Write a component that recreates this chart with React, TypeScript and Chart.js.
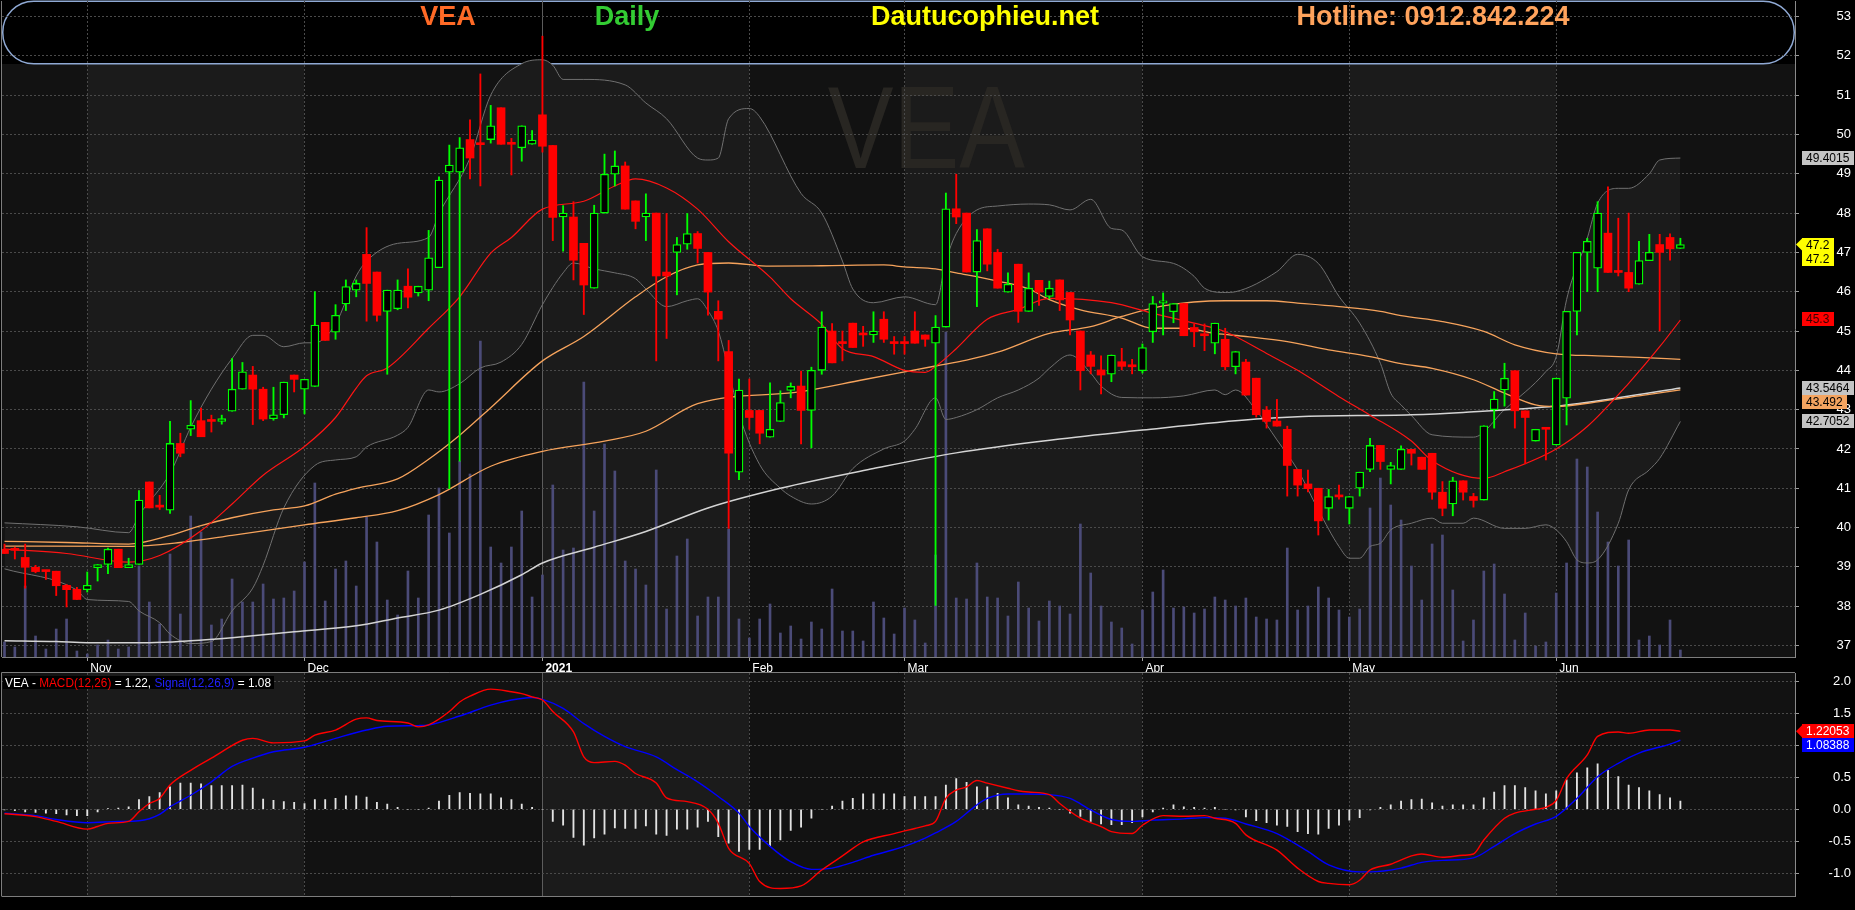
import React, { useEffect, useRef } from 'react';
import { Chart, registerables } from 'chart.js';

const FONT = '"Liberation Sans", Arial, Helvetica, sans-serif';
const DARK = '#121212';
const LIGHT = '#1b1b1b';
const GRID = '#4a4a4a';
const UP = '#00ff00';
const DOWN = '#ff0000';

// ---------------- data (trading-day index 0 = 21 Oct 2020 ... 162 = 17 Jun 2021) ----------------
const monthStarts = [8, 29, 52, 72, 87, 110, 130, 150];
const monthLabels = ['Nov', 'Dec', '2021', 'Feb', 'Mar', 'Apr', 'May', 'Jun'];

const opens = [
  39.45, 39.45, 39.24, 38.99, 38.9, 38.89, 38.53, 38.43, 38.42, 38.98,
  39.06, 39.45, 38.98, 39.06, 41.16, 40.55, 40.44, 42.14, 42.5, 42.72,
  42.72, 42.7, 42.96, 43.52, 43.88, 43.52, 42.77, 42.87, 43.88, 43.52,
  43.59, 45.22, 44.97, 45.69, 46.04, 46.95, 46.5, 45.5, 45.57, 46.14,
  45.97, 46.04, 46.61, 49.04, 49.04, 49.87, 49.76, 49.87, 50.68, 49.76,
  49.66, 49.75, 50.5, 49.72, 47.9, 47.9, 47.23, 46.09, 48.0, 48.99,
  49.2, 48.31, 47.9, 48.0, 46.5, 47.0, 47.21, 47.48, 47.0, 45.5,
  44.48, 41.41, 42.98, 42.98, 42.3, 42.7, 43.49, 43.6, 42.98, 44.0,
  45.0, 44.7, 45.2, 44.92, 44.9, 45.3, 44.7, 44.7, 45.0, 44.9,
  44.69, 45.1, 48.11, 48.0, 46.5, 47.6, 47.0, 45.99, 46.7, 45.5,
  46.29, 45.88, 46.3, 45.98, 45.0, 44.39, 44.01, 43.9, 44.22, 44.1,
  43.99, 44.98, 45.71, 45.49, 45.7, 45.09, 44.9, 44.69, 44.79, 44.09,
  44.21, 43.8, 42.99, 42.71, 42.5, 41.48, 41.11, 41.0, 40.49, 40.8,
  40.49, 41.0, 41.48, 42.09, 41.48, 41.48, 41.99, 41.79, 41.89, 40.9,
  40.6, 41.19, 40.79, 40.7, 43.0, 43.5, 43.99, 42.97, 42.2, 42.51,
  42.1, 43.29, 45.5, 47.0, 46.6, 47.49, 46.5, 46.49, 46.19, 46.79,
  47.2, 47.38, 47.1,
];
const highs = [
  39.58, 39.5, 39.58, 39.04, 38.9, 38.89, 38.55, 38.48, 38.87, 39.06,
  39.48, 39.45, 39.22, 40.94, 41.16, 40.82, 42.7, 42.4, 43.23, 43.04,
  42.86, 42.86, 44.3, 44.2, 44.1, 43.57, 43.57, 43.7, 43.88, 43.77,
  46.0, 45.22, 45.67, 46.3, 46.3, 47.63, 46.5, 46.04, 46.3, 46.58,
  46.14, 47.56, 48.92, 49.73, 49.92, 50.37, 51.54, 50.74, 50.68, 49.9,
  50.22, 50.1, 52.5, 49.72, 48.19, 48.29, 47.23, 48.2, 49.5, 49.58,
  49.3, 48.31, 48.49, 48.0, 47.99, 47.38, 47.99, 47.53, 47.0, 45.77,
  44.76, 43.78, 43.78, 42.98, 43.68, 43.48, 43.68, 43.98, 44.08, 45.49,
  45.19, 45.0, 45.2, 45.12, 45.49, 45.49, 44.86, 44.86, 45.49, 44.9,
  45.39, 48.51, 48.99, 48.0, 47.58, 47.6, 47.08, 46.48, 46.7, 46.48,
  46.29, 46.27, 46.3, 45.98, 45.0, 44.48, 44.37, 44.39, 44.56, 44.28,
  44.67, 45.88, 45.97, 45.7, 45.7, 45.18, 45.18, 45.2, 45.07, 44.48,
  44.28, 43.8, 43.08, 43.26, 42.58, 41.48, 41.46, 41.0, 40.97, 41.08,
  40.79, 41.41, 42.27, 42.09, 41.66, 42.08, 41.99, 41.79, 41.89, 41.17,
  41.28, 41.19, 40.87, 42.59, 43.46, 44.18, 43.99, 42.97, 42.5, 42.51,
  43.8, 45.5, 47.0, 47.36, 48.29, 48.67, 47.87, 48.0, 47.28, 47.46,
  47.46, 47.47, 47.36,
];
const lows = [
  39.34, 39.2, 38.46, 38.85, 38.68, 38.27, 37.98, 38.17, 38.36, 38.64,
  38.83, 38.98, 38.98, 39.06, 40.5, 40.46, 40.36, 41.8, 42.34, 42.31,
  42.43, 42.63, 42.96, 43.52, 42.62, 42.72, 42.73, 42.79, 43.45, 42.89,
  43.59, 44.76, 44.79, 45.52, 45.87, 45.25, 45.25, 43.9, 45.54, 45.59,
  45.89, 45.77, 46.61, 40.99, 41.69, 48.87, 48.69, 49.78, 49.75, 48.97,
  49.32, 49.75, 49.55, 47.3, 47.03, 46.3, 45.42, 46.09, 48.0, 48.69,
  48.1, 47.6, 47.3, 44.24, 44.81, 45.92, 47.08, 46.73, 45.4, 44.24,
  39.98, 41.22, 42.5, 42.13, 42.3, 42.7, 43.3, 42.13, 42.03, 43.9,
  44.19, 44.24, 44.58, 44.61, 44.71, 44.71, 44.41, 44.41, 44.69, 44.61,
  38.02, 45.1, 47.73, 46.5, 45.62, 46.53, 46.09, 45.99, 45.22, 45.5,
  45.65, 45.82, 45.52, 44.9, 43.5, 43.91, 43.4, 43.71, 44.01, 43.91,
  43.93, 44.71, 44.9, 45.21, 44.88, 44.6, 44.5, 44.42, 44.01, 43.91,
  43.37, 42.81, 42.53, 42.58, 40.8, 40.8, 40.91, 39.81, 40.19, 40.72,
  40.09, 40.8, 41.42, 41.48, 41.11, 41.48, 41.59, 41.48, 40.72, 40.3,
  40.3, 40.7, 40.52, 40.7, 42.53, 43.09, 42.53, 41.62, 42.2, 41.72,
  42.1, 42.61, 44.9, 46.0, 46.0, 46.49, 46.4, 46.0, 46.19, 46.79,
  45.0, 46.8, 47.1,
];
const closes = [
  39.34, 39.42, 38.99, 38.88, 38.88, 38.52, 38.42, 38.17, 38.53, 39.06,
  39.45, 38.98, 39.06, 40.7, 40.5, 40.52, 42.14, 41.89, 42.6, 42.31,
  42.7, 42.77, 43.52, 43.96, 43.52, 42.76, 42.87, 43.7, 43.77, 43.77,
  45.15, 44.76, 45.4, 46.13, 46.21, 46.21, 45.4, 46.04, 46.04, 45.86,
  46.14, 46.86, 48.84, 49.22, 49.66, 49.4, 49.74, 50.22, 49.75, 49.75,
  50.22, 49.86, 49.7, 47.89, 48.0, 46.8, 46.17, 48.0, 48.99, 49.2,
  48.1, 47.79, 48.0, 46.4, 46.4, 47.2, 47.48, 47.1, 45.99, 45.3,
  41.89, 43.5, 42.8, 42.4, 42.5, 43.18, 43.59, 42.98, 44.0, 45.1,
  44.19, 44.68, 44.58, 44.9, 45.0, 44.79, 44.68, 44.68, 44.69, 44.79,
  45.1, 48.11, 47.9, 46.5, 47.3, 46.7, 46.09, 46.19, 45.5, 46.09,
  45.99, 46.09, 45.79, 45.28, 43.99, 44.1, 43.88, 44.39, 44.1, 44.09,
  44.58, 45.7, 45.77, 45.7, 44.88, 44.98, 44.88, 45.2, 44.09, 44.48,
  43.37, 42.87, 42.7, 42.58, 41.58, 41.08, 40.99, 40.17, 40.79, 40.78,
  40.79, 41.41, 42.09, 41.68, 41.58, 41.99, 41.89, 41.48, 40.9, 40.49,
  41.19, 40.9, 40.69, 42.59, 43.27, 43.8, 42.97, 42.8, 42.5, 42.5,
  43.8, 45.5, 47.0, 47.28, 48.0, 46.49, 46.49, 46.09, 46.79, 47.0,
  47.0, 47.09, 47.2,
];
// volume in relative units (no volume axis is shown in the picture)
const volume = [
  15, 10, 71, 21, 8, 28, 38, 6, 3, 12,
  17, 8, 10, 91, 55, 33, 103, 43, 141, 125,
  32, 38, 78, 55, 55, 73, 58, 59, 66, 95,
  174, 56, 88, 96, 71, 140, 115, 57, 42, 86,
  59, 142, 169, 124, 196, 183, 316, 110, 94, 110,
  146, 60, 82, 172, 107, 109, 275, 146, 213, 186,
  96, 88, 72, 187, 48, 101, 118, 41, 60, 60,
  128, 38, 19, 38, 53, 24, 31, 18, 35, 28,
  68, 26, 26, 16, 55, 39, 23, 49, 37, 14,
  102, 325, 59, 58, 94, 60, 59, 41, 75, 49,
  36, 56, 51, 43, 133, 84, 51, 35, 29, 13,
  47, 65, 87, 49, 50, 44, 48, 60, 57, 51,
  59, 40, 38, 37, 109, 47, 51, 70, 59, 47,
  40, 48, 149, 179, 152, 137, 91, 57, 113, 122,
  67, 16, 37, 86, 93, 63, 17, 44, 11, 15,
  64, 94, 198, 190, 145, 115, 91, 117, 17, 21,
  12, 37, 7,
];

// indicator lines: [trading-day index, value]
const ma20 = [[0, 39.45], [6, 39.34], [12, 39.12], [15, 39.29], [19, 39.92], [22, 40.6], [25, 41.33], [29, 42.06], [32, 42.8], [34, 43.55], [35, 43.86], [37, 44.06], [41, 45.07], [44, 45.87], [47, 46.98], [49, 47.38], [52, 48.1], [56, 48.3], [59, 48.69], [61, 48.87], [64, 48.64], [67, 48.1], [70, 47.27], [74, 46.37], [76, 45.82], [79, 45.17], [81, 44.55], [84, 44.35], [87, 44.0], [89, 43.95], [90, 44.1], [92, 44.55], [95, 45.3], [98, 45.55], [101, 45.83], [107, 45.72], [111, 45.45], [115, 45.2], [118, 44.98], [122, 44.43], [125, 44.0], [129, 43.33], [132, 42.86], [136, 42.2], [138, 41.7], [143, 41.25], [145, 41.42], [150, 42.0], [153, 42.57], [157, 43.67], [160, 44.6], [162, 45.28]];
const ma50 = [[0, 39.65], [6, 39.62], [12, 39.58], [16, 39.8], [19, 40.05], [22, 40.25], [26, 40.45], [29, 40.55], [32, 40.85], [34, 41.0], [38, 41.24], [41, 41.74], [44, 42.35], [47, 43.05], [52, 44.24], [56, 44.86], [61, 45.87], [64, 46.38], [67, 46.68], [70, 46.73], [74, 46.65], [79, 46.66], [85, 46.68], [87, 46.63], [90, 46.58], [92, 46.48], [96, 46.27], [99, 46.07], [101, 45.8], [104, 45.54], [108, 45.33], [111, 45.07], [114, 45.07], [117, 44.94], [120, 44.86], [124, 44.73], [128, 44.52], [132, 44.35], [135, 44.17], [138, 44.05], [142, 43.76], [145, 43.42], [148, 43.12], [150, 43.08], [154, 43.2], [158, 43.35], [162, 43.5]];
const ma100 = [[0, 39.53], [12, 39.52], [17, 39.62], [22, 39.8], [29, 40.07], [34, 40.25], [38, 40.43], [42, 40.84], [47, 41.56], [52, 41.94], [58, 42.2], [62, 42.45], [67, 43.15], [77, 43.46], [83, 43.76], [90, 44.11], [93, 44.26], [96, 44.46], [101, 44.94], [105, 45.11], [108, 45.37], [112, 45.64], [118, 45.77], [122, 45.77], [125, 45.71], [129, 45.62], [133, 45.5], [135, 45.39], [139, 45.24], [143, 44.99], [146, 44.65], [150, 44.42], [154, 44.37], [158, 44.33], [162, 44.28]];
const ma200 = [[0, 37.12], [5, 37.1], [8, 37.07], [14, 37.07], [18, 37.12], [22, 37.2], [28, 37.35], [34, 37.5], [38, 37.7], [42, 37.9], [46, 38.3], [50, 38.8], [52, 39.1], [57, 39.5], [62, 39.9], [68, 40.5], [75, 41.0], [84, 41.5], [92, 41.9], [102, 42.25], [110, 42.48], [121, 42.76], [125, 42.82], [136, 42.87], [141, 42.93], [150, 43.09], [156, 43.3], [162, 43.55]];
const bbUpper = [[0, 40.12], [7, 40.02], [12, 39.87], [13, 40.31], [16, 41.38], [18, 42.55], [20, 43.52], [22, 44.3], [24, 44.89], [25, 44.89], [27, 44.6], [29, 44.7], [30, 44.7], [32, 45.18], [34, 46.4], [35, 46.78], [38, 47.23], [41, 47.38], [42, 47.98], [45, 49.4], [47, 51.0], [50, 51.8], [52, 51.9], [53, 51.76], [54, 51.4], [56, 51.4], [60, 51.26], [62, 50.8], [64, 50.4], [67, 49.4], [68, 49.35], [69, 49.4], [70, 50.4], [72, 50.66], [73, 50.45], [77, 48.5], [79, 48.0], [81, 46.78], [82, 46.07], [84, 45.72], [87, 45.87], [90, 45.67], [91, 46.78], [92, 47.48], [94, 48.08], [96, 48.18], [99, 48.23], [101, 48.21], [103, 48.08], [105, 48.35], [107, 47.61], [108, 47.57], [110, 46.89], [113, 46.72], [115, 46.39], [116, 46.09], [118, 45.98], [119, 46.0], [123, 46.51], [125, 46.95], [127, 46.72], [129, 45.88], [131, 45.2], [133, 44.18], [134, 43.42], [135, 43.12], [136, 42.85], [138, 42.36], [142, 42.3], [145, 43.0], [149, 43.97], [150, 44.35], [151, 45.8], [153, 47.36], [154, 48.25], [156, 48.63], [157, 48.63], [159, 49.0], [160, 49.35], [162, 49.4]];
const bbLower = [[0, 38.95], [7, 38.41], [8, 38.17], [12, 38.12], [13, 37.88], [15, 37.58], [16, 37.29], [18, 37.05], [20, 37.1], [22, 37.88], [24, 38.46], [25, 39.04], [27, 40.5], [30, 41.58], [32, 41.72], [34, 41.8], [35, 42.05], [38, 42.35], [39, 42.55], [41, 43.5], [42, 43.45], [44, 43.66], [46, 44.06], [48, 44.21], [50, 44.66], [52, 45.67], [54, 46.48], [55, 46.73], [57, 46.58], [59, 46.48], [61, 46.33], [62, 46.07], [64, 45.62], [66, 45.77], [67, 45.82], [68, 45.52], [69, 45.0], [70, 44.0], [71, 42.9], [73, 41.6], [75, 41.0], [76, 40.8], [78, 40.6], [80, 40.8], [82, 41.5], [85, 42.0], [87, 42.2], [88, 42.5], [90, 43.3], [91, 42.75], [92, 42.8], [94, 43.0], [96, 43.3], [98, 43.5], [100, 43.8], [101, 44.05], [103, 44.39], [105, 43.93], [106, 43.6], [108, 43.31], [111, 43.3], [114, 43.35], [117, 43.5], [118, 43.38], [119, 43.5], [121, 42.98], [123, 42.23], [125, 41.47], [127, 40.45], [129, 39.52], [130, 39.22], [131, 39.22], [132, 39.52], [133, 39.6], [134, 39.94], [136, 40.11], [138, 40.24], [139, 40.11], [141, 40.11], [142, 40.24], [145, 39.98], [147, 39.98], [149, 40.07], [150, 39.94], [151, 39.64], [152, 39.18], [153, 39.1], [154, 39.18], [156, 40.11], [157, 40.96], [159, 41.47], [160, 41.76], [162, 42.7]];

const macdLine = [[0, -0.07], [3, -0.115], [5, -0.19], [8, -0.31], [9, -0.27], [10, -0.22], [12, -0.19], [13, -0.04], [14, 0.09], [15, 0.17], [16, 0.38], [18, 0.61], [20, 0.8], [21, 0.9], [23, 1.08], [24, 1.11], [26, 1.04], [29, 1.07], [30, 1.16], [32, 1.24], [34, 1.41], [35, 1.43], [36, 1.39], [39, 1.35], [40, 1.29], [41, 1.32], [43, 1.53], [44, 1.68], [45, 1.77], [47, 1.88], [49, 1.84], [50, 1.81], [51, 1.76], [52, 1.71], [53, 1.53], [55, 1.21], [56, 0.82], [57, 0.73], [59, 0.75], [60, 0.69], [61, 0.56], [63, 0.41], [64, 0.18], [66, 0.12], [68, 0.0], [69, -0.22], [70, -0.61], [72, -0.85], [73, -1.13], [75, -1.24], [77, -1.2], [79, -0.95], [81, -0.73], [83, -0.51], [86, -0.38], [88, -0.3], [89, -0.26], [90, -0.19], [91, 0.17], [92, 0.3], [93, 0.35], [94, 0.45], [95, 0.41], [97, 0.33], [98, 0.29], [99, 0.27], [101, 0.23], [102, 0.09], [104, -0.14], [106, -0.27], [107, -0.35], [109, -0.38], [110, -0.25], [112, -0.1], [114, -0.11], [116, -0.1], [117, -0.14], [119, -0.22], [120, -0.4], [123, -0.64], [125, -0.92], [127, -1.13], [128, -1.16], [130, -1.18], [131, -1.11], [132, -0.95], [134, -0.86], [136, -0.73], [137, -0.7], [139, -0.75], [141, -0.72], [142, -0.7], [143, -0.48], [145, -0.14], [146, -0.06], [148, 0.0], [149, 0.03], [150, 0.14], [151, 0.48], [153, 0.85], [154, 1.14], [156, 1.21], [157, 1.19], [159, 1.24], [161, 1.24], [162, 1.22]];
const signalLine = [[0, -0.06], [3, -0.1], [5, -0.16], [8, -0.21], [11, -0.19], [13, -0.18], [15, -0.08], [16, 0.04], [18, 0.22], [20, 0.43], [22, 0.67], [24, 0.8], [26, 0.9], [29, 0.97], [32, 1.11], [35, 1.24], [37, 1.3], [40, 1.31], [41, 1.32], [44, 1.46], [47, 1.63], [49, 1.71], [51, 1.75], [52, 1.72], [54, 1.58], [56, 1.34], [58, 1.14], [60, 0.98], [63, 0.82], [65, 0.62], [67, 0.43], [69, 0.2], [71, -0.06], [72, -0.27], [74, -0.58], [76, -0.82], [78, -0.94], [80, -0.92], [82, -0.83], [84, -0.72], [87, -0.58], [89, -0.45], [90, -0.37], [92, -0.19], [94, 0.07], [95, 0.17], [97, 0.24], [99, 0.24], [101, 0.23], [103, 0.17], [105, -0.01], [107, -0.16], [109, -0.19], [111, -0.17], [114, -0.15], [116, -0.13], [118, -0.14], [120, -0.23], [123, -0.38], [126, -0.66], [128, -0.87], [131, -0.98], [132, -0.98], [135, -0.92], [137, -0.83], [139, -0.8], [142, -0.76], [144, -0.58], [146, -0.38], [148, -0.23], [150, -0.11], [152, 0.17], [154, 0.51], [156, 0.72], [158, 0.88], [161, 1.02], [162, 1.08]];
const macdHist = [
  -0.01, -0.02, -0.04, -0.05, -0.06, -0.07, -0.09, -0.1, -0.1, -0.04,
  0.01, 0.02, 0.04, 0.15, 0.2, 0.26, 0.35, 0.41, 0.41, 0.4,
  0.37, 0.37, 0.37, 0.38, 0.33, 0.16, 0.14, 0.12, 0.11, 0.09,
  0.15, 0.15, 0.17, 0.21, 0.21, 0.19, 0.11, 0.08, 0.03, 0.0,
  0.0, 0.02, 0.13, 0.22, 0.26, 0.25, 0.24, 0.24, 0.18, 0.15,
  0.08, 0.03, 0.0, -0.19, -0.25, -0.44, -0.56, -0.45, -0.39, -0.29,
  -0.3, -0.3, -0.26, -0.39, -0.41, -0.31, -0.31, -0.28, -0.19, -0.43,
  -0.53, -0.66, -0.63, -0.63, -0.58, -0.48, -0.33, -0.28, -0.14, 0.0,
  0.05, 0.13, 0.17, 0.24, 0.24, 0.24, 0.24, 0.2, 0.2, 0.2,
  0.2, 0.38, 0.48, 0.42, 0.35, 0.35, 0.25, 0.18, 0.07, 0.05,
  0.03, 0.02, 0.0, -0.06, -0.11, -0.19, -0.23, -0.24, -0.24, -0.21,
  -0.12, -0.04, 0.02, 0.07, 0.04, 0.03, 0.02, 0.03, 0.0, -0.01,
  -0.12, -0.18, -0.21, -0.25, -0.27, -0.35, -0.38, -0.39, -0.3, -0.25,
  -0.17, -0.13, -0.01, 0.03, 0.07, 0.13, 0.15, 0.16, 0.1, 0.05,
  0.07, 0.07, 0.07, 0.18, 0.27, 0.37, 0.37, 0.34, 0.29, 0.24,
  0.29, 0.46, 0.57, 0.65, 0.71, 0.61, 0.51, 0.38, 0.34, 0.29,
  0.23, 0.18, 0.13,
];

// texts shown in the picture
const headerTexts = ['VEA', 'Daily', 'Dautucophieu.net', 'Hotline: 0912.842.224'];
const watermarkText = 'VEA';
type Tag = { text: string; bg: string; fg: string; arrow?: boolean };
const priceTags: Tag[] = [
  { text: '49.4015', bg: '#c4c4c4', fg: '#000000' },
  { text: '47.2', bg: '#ffff00', fg: '#000000', arrow: true },
  { text: '47.2', bg: '#ffff00', fg: '#000000' },
  { text: '45.3', bg: '#ff0000', fg: '#3a0000' },
  { text: '43.5464', bg: '#c4c4c4', fg: '#000000' },
  { text: '43.492', bg: '#f4a460', fg: '#000000' },
  { text: '42.7052', bg: '#c4c4c4', fg: '#000000' },
];
const macdTags: Tag[] = [
  { text: '1.22053', bg: '#ff0000', fg: '#ffffff', arrow: true },
  { text: '1.08388', bg: '#0000ff', fg: '#ffffff' },
];

// ---------------- layout / style ----------------
const W = 1855;
const MAIN_H = 672;
const MACD_H = 238;
const X_MIN = -0.2417;
const X_MAX = 173.08;
const headerLayout = [
  { cx: 448, color: '#ff6a26' },
  { cx: 627, color: '#33cc33' },
  { cx: 985, color: '#ffff00' },
  { cx: 1433, color: '#ffa35c' },
];

const bgPanelPlugin = {
  id: 'bgPanel',
  beforeDraw(chart: any, _args: any, opts: any) {
    if (!opts || !opts.enabled) return;
    const { ctx, chartArea: a } = chart;
    const xs = chart.scales.x;
    ctx.save();
    ctx.fillStyle = '#000';
    ctx.fillRect(0, 0, chart.width, chart.height);
    const edges = [xs.min, ...monthStarts, xs.max];
    for (let k = 0; k < edges.length - 1; k++) {
      const x0 = xs.getPixelForValue(edges[k]);
      const x1 = xs.getPixelForValue(edges[k + 1]);
      ctx.fillStyle = k % 2 === opts.lightParity ? LIGHT : DARK;
      ctx.fillRect(x0, a.top, x1 - x0, a.bottom - a.top);
    }
    if (opts.header) {
      ctx.fillStyle = '#000';
      ctx.fillRect(a.left, 0, a.right - a.left, 64);
      ctx.beginPath();
      (ctx as any).roundRect(a.left + 0.75, 1.25, a.right - a.left - 1.5, 62.5, 31);
      ctx.fillStyle = '#000';
      ctx.fill();
      ctx.lineWidth = 1.5;
      ctx.strokeStyle = '#8fa9d4';
      ctx.stroke();
      ctx.save();
      ctx.translate(a.left + (a.right - a.left) * 0.5155, 168);
      ctx.scale(0.85, 1);
      ctx.font = `116px ${FONT}`;
      ctx.textAlign = 'center';
      ctx.textBaseline = 'alphabetic';
      ctx.fillStyle = '#282622';
      ctx.fillText(watermarkText, 0, 0);
      ctx.restore();
    }
    ctx.restore();
  },
};

Chart.register(bgPanelPlugin as any);
Chart.register(...registerables);
Chart.defaults.font.family = FONT;

const pts = (arr: number[][]) => arr.map(([x, y]) => ({ x, y }));

function drawTags(chart: any, tags: Tag[], scaleId: string) {
  const { ctx, chartArea: a } = chart;
  const ys = chart.scales[scaleId];
  const h = 14;
  const left = a.right + 7;
  ctx.save();
  ctx.font = `12px ${FONT}`;
  ctx.textBaseline = 'middle';
  ctx.textAlign = 'left';
  const items = tags
    .map((t, k) => ({ t, k, y0: ys.getPixelForValue(parseFloat(t.text)) }))
    .sort((p, q) => p.y0 - q.y0 || p.k - q.k);
  let prev = -1e9;
  for (const it of items) {
    const y = Math.max(it.y0, prev + h);
    prev = y;
    const w = Math.ceil(ctx.measureText(it.t.text).width) + 8;
    ctx.fillStyle = it.t.bg;
    if (it.t.arrow) {
      ctx.beginPath();
      ctx.moveTo(a.right + 1, it.y0);
      ctx.lineTo(left, it.y0 - 6);
      ctx.lineTo(left, it.y0 + 6);
      ctx.closePath();
      ctx.fill();
    }
    ctx.fillRect(left, Math.round(y - h / 2), w, h);
    ctx.fillStyle = it.t.fg;
    ctx.fillText(it.t.text, left + 4, Math.round(y) + 0.5);
  }
  ctx.restore();
}

const zeroPad = (s: any) => {
  s.paddingTop = 0;
  s.paddingBottom = 0;
  s.paddingLeft = 0;
  s.paddingRight = 0;
};

function xScale(showLabels: boolean) {
  return {
    type: 'linear',
    position: 'bottom',
    min: X_MIN,
    max: X_MAX,
    offset: false,
    afterBuildTicks: (s: any) => {
      s.ticks = monthStarts.map((v) => ({ value: v }));
    },
    afterFit: (s: any) => {
      s.height = showLabels ? 15 : 0;
      zeroPad(s);
    },
    grid: {
      display: true,
      offset: false,
      color: (c: any) => (c.tick && c.tick.value === 52 ? '#5c5c5c' : GRID),
      lineWidth: 1,
      drawTicks: showLabels,
      tickLength: 4,
      tickColor: '#9a9a9a',
    },
    border: {
      display: true,
      color: '#7d7d7d',
      width: 1,
      dash: (c: any) => (c.tick && c.tick.value === 52 ? [] : [2, 2]),
    },
    ticks: {
      display: showLabels,
      autoSkip: false,
      maxRotation: 0,
      minRotation: 0,
      align: 'start',
      labelOffset: 3,
      padding: 0,
      color: '#ffffff',
      font: (c: any) => ({ family: FONT, size: 12, weight: c.tick && c.tick.value === 52 ? 'bold' : 'normal' }),
      callback: (v: number) => {
        const k = monthStarts.indexOf(v);
        return k >= 0 ? monthLabels[k] : '';
      },
    },
  };
}

function mainConfig(): any {
  const up = closes.map((c, i) => c >= opens[i]);
  return {
    type: 'bar',
    data: {
      datasets: [
        {
          type: 'line', label: 'BB upper', data: pts(bbUpper), borderColor: '#707070', borderWidth: 1,
          pointRadius: 0, cubicInterpolationMode: 'monotone', fill: '+1', backgroundColor: LIGHT, order: 9,
        },
        {
          type: 'line', label: 'BB lower', data: pts(bbLower), borderColor: '#707070', borderWidth: 1,
          pointRadius: 0, cubicInterpolationMode: 'monotone', fill: false, order: 9,
        },
        {
          type: 'bar', label: 'Volume', data: volume.map((v, i) => ({ x: i, y: v })), yAxisID: 'yv',
          backgroundColor: '#4b4b78', barThickness: 2, grouped: false, order: 10,
        },
        {
          type: 'line', label: 'MA200', data: pts(ma200), borderColor: '#d4d4d4', borderWidth: 1.5,
          pointRadius: 0, cubicInterpolationMode: 'monotone', fill: false, order: 8,
        },
        {
          type: 'line', label: 'MA100', data: pts(ma100), borderColor: '#f6a35c', borderWidth: 1.3,
          pointRadius: 0, cubicInterpolationMode: 'monotone', fill: false, order: 7,
        },
        {
          type: 'line', label: 'MA50', data: pts(ma50), borderColor: '#f6a35c', borderWidth: 1.3,
          pointRadius: 0, cubicInterpolationMode: 'monotone', fill: false, order: 6,
        },
        {
          type: 'line', label: 'MA20', data: pts(ma20), borderColor: '#ff1414', borderWidth: 1.2,
          pointRadius: 0, cubicInterpolationMode: 'monotone', fill: false, order: 5,
        },
        {
          type: 'bar', label: 'Wick', data: lows.map((l, i) => ({ x: i, y: [l, highs[i]] })),
          backgroundColor: up.map((u) => (u ? UP : DOWN)), barThickness: 1.2, grouped: false, order: 2,
        },
        {
          type: 'bar', label: 'Body', data: opens.map((o, i) => ({ x: i, y: [o, closes[i]] })),
          backgroundColor: up.map((u) => (u ? '#000000' : DOWN)),
          borderColor: up.map((u) => (u ? UP : DOWN)),
          borderWidth: up.map((u) => (u ? 1.3 : 0)),
          borderSkipped: false, barThickness: 8, minBarLength: 2, grouped: false, order: 1,
        },
      ],
    },
    options: {
      responsive: false,
      animation: false,
      devicePixelRatio: 1,
      events: [],
      layout: { padding: { left: 2, top: 1, right: 4, bottom: 0 } },
      scales: {
        x: xScale(true),
        y: {
          type: 'linear', position: 'right', min: 36.7075, max: 53.395,
          afterFit: (s: any) => { s.width = 56; zeroPad(s); },
          grid: { color: GRID, drawTicks: true, tickLength: 4, tickColor: '#9a9a9a' },
          border: { display: true, color: '#8a8a8a', dash: [2, 2] },
          ticks: {
            stepSize: 1, includeBounds: false, maxTicksLimit: 60, color: '#ffffff',
            font: { family: FONT, size: 13 }, crossAlign: 'far', padding: 37,
            callback: (v: number) => String(v),
          },
        },
        yv: { type: 'linear', display: false, min: 0, max: 656 },
      },
      plugins: {
        legend: { display: false },
        tooltip: { enabled: false },
        colors: { enabled: false },
        filler: { drawTime: 'beforeDraw', propagate: false },
        bgPanel: { enabled: true, lightParity: 1, header: true },
      },
    },
    plugins: [
      {
        id: 'mainOverlay',
        afterDraw(chart: any) {
          const { ctx, chartArea: a } = chart;
          ctx.save();
          ctx.strokeStyle = '#7d7d7d';
          ctx.lineWidth = 1;
          ctx.beginPath();
          ctx.moveTo(a.left - 0.5, a.top);
          ctx.lineTo(a.left - 0.5, a.bottom);
          ctx.stroke();
          ctx.font = `bold 27px ${FONT}`;
          ctx.textAlign = 'center';
          ctx.textBaseline = 'alphabetic';
          headerTexts.forEach((t, k) => {
            ctx.fillStyle = headerLayout[k].color;
            ctx.fillText(t, headerLayout[k].cx, 25);
          });
          ctx.restore();
          drawTags(chart, priceTags, 'y');
        },
      },
    ],
  };
}

function macdConfig(): any {
  const lastMacd = macdLine[macdLine.length - 1][1];
  const lastSignal = signalLine[signalLine.length - 1][1];
  return {
    type: 'bar',
    data: {
      datasets: [
        {
          type: 'line', label: 'MACD(12,26)', data: pts(macdLine), borderColor: '#ff0000', borderWidth: 1.4,
          pointRadius: 0, cubicInterpolationMode: 'monotone', fill: false, order: 1,
        },
        {
          type: 'line', label: 'Signal(12,26,9)', data: pts(signalLine), borderColor: '#0000ff', borderWidth: 1.4,
          pointRadius: 0, cubicInterpolationMode: 'monotone', fill: false, order: 2,
        },
        {
          type: 'bar', label: 'Histogram', data: macdHist.map((v, i) => ({ x: i, y: v })),
          backgroundColor: '#e2e2e2', barThickness: 1.2, grouped: false, order: 3,
        },
      ],
    },
    options: {
      responsive: false,
      animation: false,
      devicePixelRatio: 1,
      events: [],
      layout: { padding: { left: 2, top: 1, right: 4, bottom: 13.5 } },
      scales: {
        x: xScale(false),
        y: {
          type: 'linear', position: 'right', min: -1.365, max: 2.133,
          afterFit: (s: any) => { s.width = 56; zeroPad(s); },
          grid: { color: GRID, drawTicks: true, tickLength: 4, tickColor: '#9a9a9a' },
          border: { display: true, color: '#8a8a8a', dash: [2, 2] },
          ticks: {
            stepSize: 0.5, includeBounds: false, maxTicksLimit: 60, color: '#ffffff',
            font: { family: FONT, size: 13 }, crossAlign: 'far', padding: 30,
            callback: (v: number) => v.toFixed(1),
          },
        },
      },
      plugins: {
        legend: { display: false },
        tooltip: { enabled: false },
        colors: { enabled: false },
        bgPanel: { enabled: true, lightParity: 1, header: false },
      },
    },
    plugins: [
      {
        id: 'macdOverlay',
        afterDraw(chart: any) {
          const { ctx, chartArea: a } = chart;
          ctx.save();
          ctx.strokeStyle = '#7d7d7d';
          ctx.lineWidth = 1;
          ctx.beginPath();
          ctx.moveTo(a.left - 0.5, a.bottom);
          ctx.lineTo(a.left - 0.5, a.top - 0.5);
          ctx.lineTo(a.right, a.top - 0.5);
          ctx.stroke();
          // legend
          const parts: [string, string][] = [
            ['VEA - ', '#ffffff'],
            ['MACD(12,26)', '#ff0000'],
            [` = ${lastMacd.toFixed(2)}, `, '#ffffff'],
            ['Signal(12,26,9)', '#2020ff'],
            [` = ${lastSignal.toFixed(2)}`, '#ffffff'],
          ];
          ctx.font = `12px ${FONT}`;
          const total = parts.reduce((s, p) => s + ctx.measureText(p[0]).width, 0);
          const sx = Math.min(1, 266 / total);
          ctx.fillStyle = '#000';
          ctx.fillRect(a.left + 1, a.top + 3, total * sx + 5, 13);
          ctx.translate(a.left + 3, a.top + 13.5);
          ctx.scale(sx, 1);
          ctx.textBaseline = 'alphabetic';
          ctx.textAlign = 'left';
          let x = 0;
          for (const [t, c] of parts) {
            ctx.fillStyle = c;
            ctx.fillText(t, x, 0);
            x += ctx.measureText(t).width;
          }
          ctx.restore();
          drawTags(chart, macdTags, 'y');
        },
      },
    ],
  };
}

export default function App() {
  const mainRef = useRef<HTMLCanvasElement>(null);
  const macdRef = useRef<HTMLCanvasElement>(null);
  useEffect(() => {
    document.body.style.margin = '0';
    document.body.style.background = '#000';
    const c1 = new Chart(mainRef.current as HTMLCanvasElement, mainConfig());
    const c2 = new Chart(macdRef.current as HTMLCanvasElement, macdConfig());
    return () => {
      c1.destroy();
      c2.destroy();
    };
  }, []);
  return (
    <div style={{ position: 'absolute', left: 0, top: 0, width: W, height: 910, background: '#000', overflow: 'hidden' }}>
      <canvas ref={mainRef} width={W} height={MAIN_H} style={{ position: 'absolute', left: 0, top: 0, width: W, height: MAIN_H }} />
      <canvas ref={macdRef} width={W} height={MACD_H} style={{ position: 'absolute', left: 0, top: MAIN_H, width: W, height: MACD_H }} />
    </div>
  );
}
